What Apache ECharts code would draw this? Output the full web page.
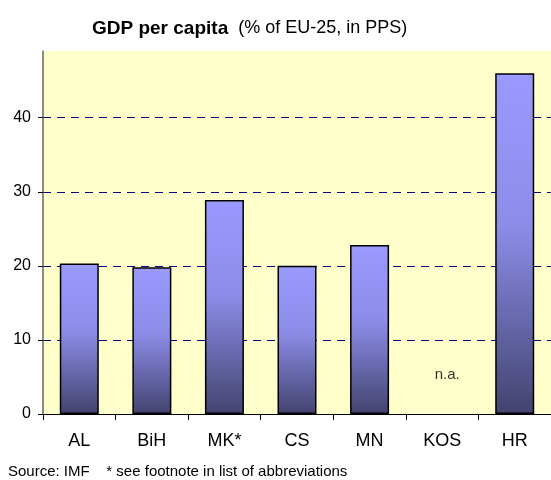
<!DOCTYPE html>
<html>
<head>
<meta charset="utf-8">
<script src="https://cdn.jsdelivr.net/npm/echarts@6/dist/echarts.min.js"></script>
<style>
  html, body { margin: 0; padding: 0; background: #fff; }
  #chart { width: 551px; height: 480px; }
</style>
</head>
<body>
<div id="chart"></div>
<script>
// 国家 / 地区
var categories = ["AL", "BiH", "MK*", "CS", "MN", "KOS", "HR"];
// GDP per capita, % of EU-25 (KOS 无数据)
var gdpValues = [20.3, 19.8, 28.9, 20.0, 22.8, null, 46.0];
var yTicks = [0, 10, 20, 30, 40];
var naLabel = { category: "KOS", value: 5.3, text: "n.a." };

var chartDom = document.getElementById('chart');
var myChart = echarts.init(chartDom);

var barColor = new echarts.graphic.LinearGradient(0, 0, 0, 1, [
    {offset: 0, color: '#9a9aff'},
    {offset: 0.45, color: '#8c8ce8'},
    {offset: 1, color: '#43436f'}
]);

var option = {
    backgroundColor: '#ffffff',
    animation: false,
    title: {
        text: '{b|GDP per capita}{g| }{n|(% of EU-25, in PPS)}',
        left: 87,
        top: 14,
        textStyle: {
            fontWeight: 'normal',
            rich: {
                b: {fontFamily: 'Liberation Sans, Arial', fontWeight: 'bold', fontSize: 19, color: '#000'},
                g: {width: 10},
                n: {fontFamily: 'Liberation Sans, Arial', fontWeight: 'normal', fontSize: 18, color: '#000'}
            }
        }
    },
    grid: {
        left: 43,
        top: 51,
        width: 521,
        height: 363,
        show: true,
        backgroundColor: '#ffffcc',
        borderWidth: 0
    },
    xAxis: {
        type: 'category',
        data: categories,
        axisLine: {lineStyle: {color: '#000', width: 1}},
        axisTick: {show: true, length: 6, lineStyle: {color: '#000'}},
        axisLabel: {
            fontFamily: 'Liberation Sans, Arial',
            fontSize: 18,
            color: '#000',
            margin: 18
        }
    },
    yAxis: {
        type: 'value',
        min: 0,
        max: 49,
        interval: 10,
        axisLine: {show: true, lineStyle: {color: '#666', width: 1.5}},
        axisTick: {show: true, length: 5, lineStyle: {color: '#000'}},
        axisLabel: {
            fontFamily: 'Liberation Sans, Arial',
            fontSize: 16,
            color: '#000',
            margin: 12,
            showMaxLabel: false,
            formatter: function (v) {
                return yTicks.indexOf(v) >= 0 ? String(v) : '';
            }
        },
        splitLine: {
            show: true,
            showMinLine: false,
            showMaxLine: false,
            lineStyle: {color: '#000080', type: [8, 6], width: 1}
        }
    },
    series: [{
        type: 'bar',
        data: gdpValues,
        barWidth: 39,
        itemStyle: {
            color: barColor,
            borderColor: '#000',
            borderWidth: 1.5
        }
    }, {
        type: 'scatter',
        data: [[naLabel.category, naLabel.value]],
        symbolSize: 0,
        silent: true,
        label: {
            show: true,
            position: 'inside',
            offset: [5, 0],
            formatter: naLabel.text,
            fontFamily: 'Liberation Sans, Arial',
            fontSize: 15,
            color: '#000'
        }
    }],
    graphic: [{
        type: 'text',
        left: 8,
        top: 464,
        style: {
            text: 'Source: IMF    * see footnote in list of abbreviations',
            font: '15px Liberation Sans, Arial',
            fill: '#000'
        }
    }]
};

option && myChart.setOption(option);
</script>
</body>
</html>
